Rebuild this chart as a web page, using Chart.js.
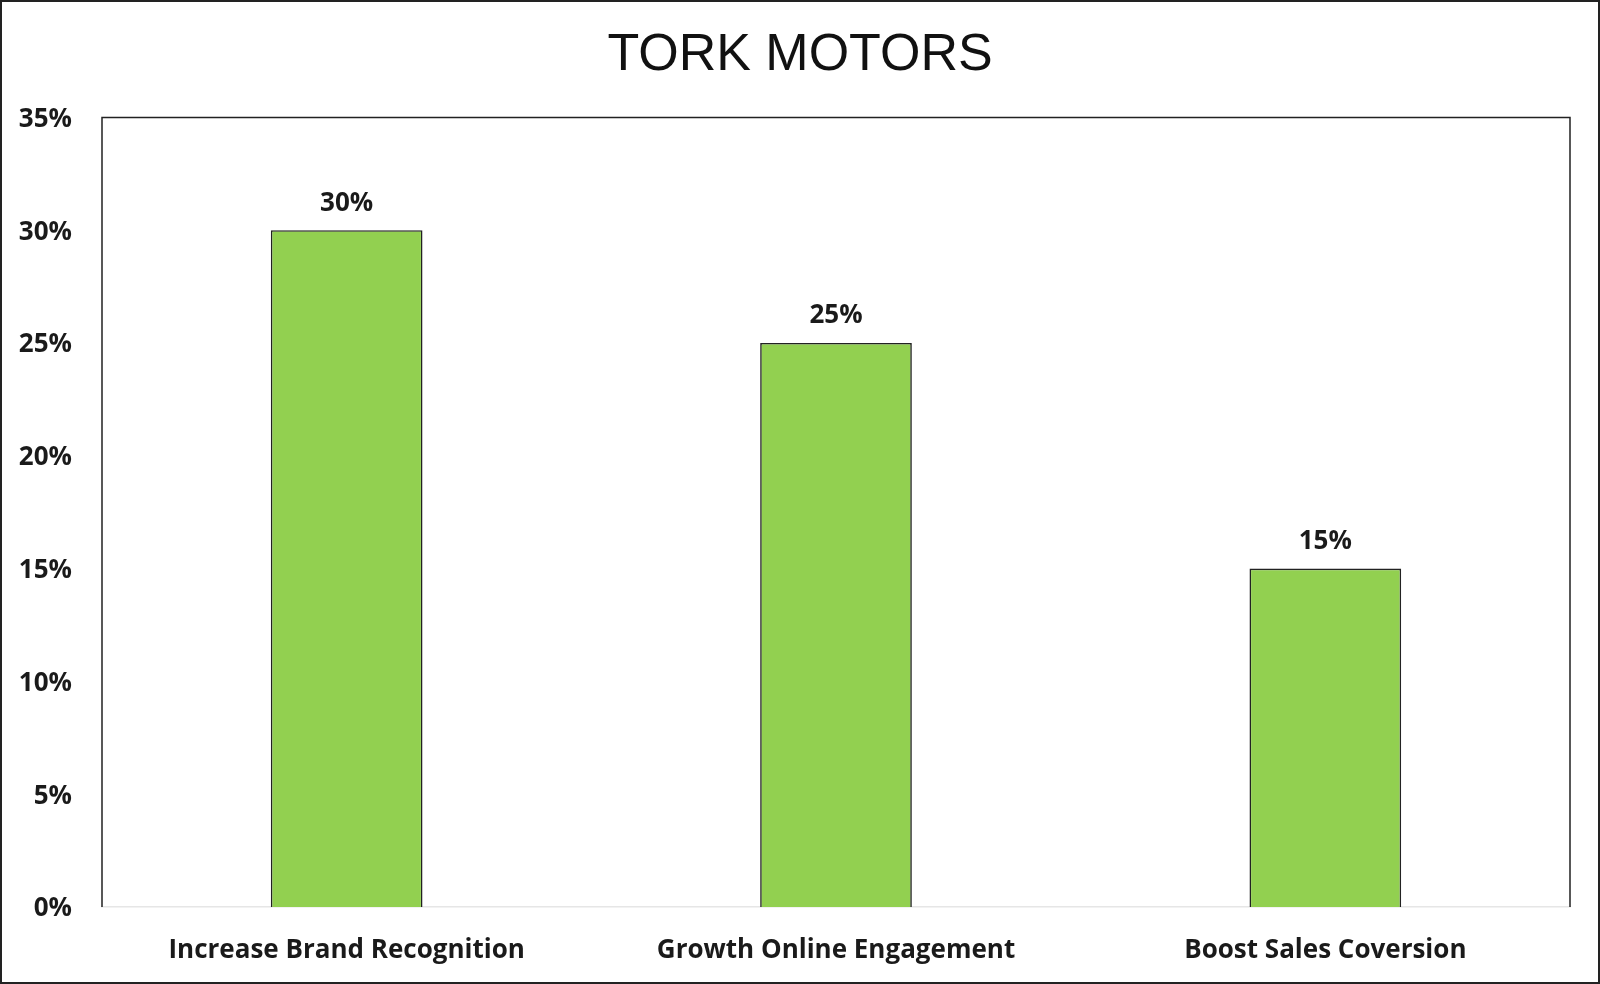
<!DOCTYPE html>
<html>
<head>
<meta charset="utf-8">
<script src="https://cdn.jsdelivr.net/npm/chart.js@4.4.1/dist/chart.umd.min.js"></script>
<style>
  html, body { margin: 0; padding: 0; background: #ffffff; }
  #wrap { width: 1600px; height: 984px; position: relative; }
  canvas { display: block; }
</style>
</head>
<body>
<div id="wrap"><canvas id="c" width="1600" height="984"></canvas></div>
<script>
const titleText = 'TORK MOTORS';
const categories = ['Increase Brand Recognition', 'Growth Online Engagement', 'Boost Sales Coversion'];
const values = [30, 25, 15];
const yTicks = [0, 5, 10, 15, 20, 25, 30, 35];

const LABEL_FONT = { family: 'Open Sans', weight: 'bold', size: 26 };

const frameAndLabels = {
  id: 'frameAndLabels',
  beforeDraw(chart) {
    const ctx = chart.ctx;
    ctx.save();
    ctx.fillStyle = '#ffffff';
    ctx.fillRect(0, 0, chart.width, chart.height);
    ctx.strokeStyle = '#222222';
    ctx.lineWidth = 2;
    ctx.strokeRect(1, 1, chart.width - 2, chart.height - 2);
    ctx.restore();
  },
  afterDatasetsDraw(chart) {
    const ctx = chart.ctx;
    const a = chart.chartArea;
    ctx.save();
    ctx.strokeStyle = '#222222';
    ctx.lineWidth = 1.5;
    ctx.beginPath();
    ctx.moveTo(a.left, a.bottom);
    ctx.lineTo(a.left, a.top);
    ctx.lineTo(a.right, a.top);
    ctx.lineTo(a.right, a.bottom);
    ctx.stroke();
    const meta = chart.getDatasetMeta(0);
    ctx.fillStyle = '#1a1a1a';
    ctx.font = 'bold 26px "Open Sans"';
    ctx.textAlign = 'center';
    ctx.textBaseline = 'middle';
    meta.data.forEach((bar, i) => {
      const v = chart.data.datasets[0].data[i];
      ctx.fillText(v + '%', bar.x, bar.y - 27);
    });
    ctx.restore();
  }
};

new Chart(document.getElementById('c'), {
  type: 'bar',
  data: {
    labels: categories,
    datasets: [{
      data: values,
      backgroundColor: '#92D050',
      borderColor: '#222222',
      borderWidth: 1.6,
      borderSkipped: 'bottom',
      barPercentage: 0.31,
      categoryPercentage: 1.0
    }]
  },
  options: {
    responsive: false,
    animation: false,
    devicePixelRatio: 1,
    layout: { padding: { left: 0, right: 0, top: 24, bottom: 0 } },
    plugins: {
      legend: { display: false },
      tooltip: { enabled: false },
      title: {
        display: true,
        text: titleText,
        color: '#111111',
        font: { family: 'Liberation Sans', size: 52, weight: 'normal' },
        padding: { top: 0, bottom: 31 }
      }
    },
    scales: {
      x: {
        grid: { display: false, drawTicks: false },
        border: { display: true, color: '#e6e6e6', width: 1.5 },
        ticks: { color: '#1a1a1a', font: LABEL_FONT, padding: 28, maxRotation: 0 },
        afterFit(s) { s.height = 77; }
      },
      y: {
        min: 0,
        max: 35,
        grid: { display: false, drawTicks: false },
        border: { display: false },
        afterBuildTicks(s) { s.ticks = yTicks.map(v => ({ value: v })); },
        afterFit(s) { s.width = 102; },
        ticks: {
          color: '#1a1a1a',
          font: LABEL_FONT,
          padding: 30,
          labelOffset: 2,
          callback: (v) => v + '%'
        }
      },
      yRightSpacer: {
        position: 'right',
        display: true,
        min: 0,
        max: 35,
        grid: { display: false, drawTicks: false },
        border: { display: false },
        ticks: { display: false },
        afterFit(s) { s.width = 30; }
      }
    }
  },
  plugins: [frameAndLabels]
});
</script>
</body>
</html>
